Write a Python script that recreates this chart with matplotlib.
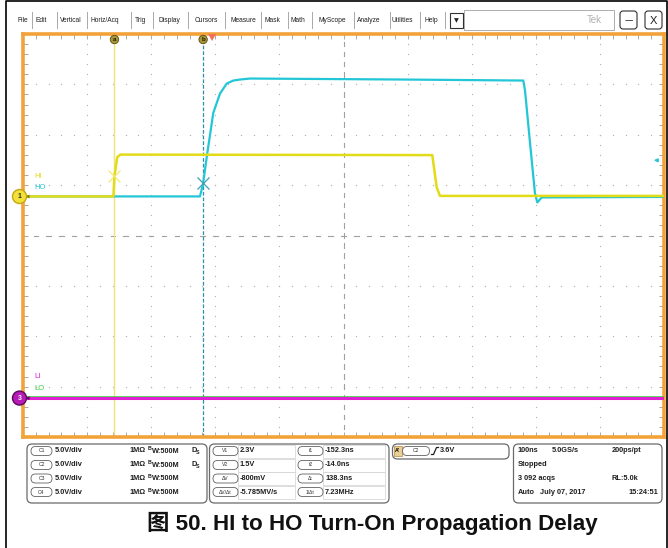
import numpy as np
import matplotlib.pyplot as plt
from matplotlib.patches import FancyBboxPatch, Rectangle, Circle, Polygon

W, H = 668, 548

# scope settings
t_left, ns_div = -295.0, 100.0      # 100 ns/div, trigger at t = 0
v_div = 5.0                          # 5 V/div on all channels
gnd12 = 0.776                        # C1/C2 ground, divisions above centre
gnd34 = -3.235                       # C3/C4 ground

# HI (C1, yellow)
hi_t = [-295, -154, -152.3, -148, -143, 343.5, 350.4, 355.5, 705]
hi_v = [0.0, 0.0, 2.0, 3.9, 4.15, 4.1, 0.9, 0.05, 0.05]
# HO (C2, cyan)
ho_t = [-295, -18.9, -14.2, -8.4, 1.9, 12.3, 22.8, 33.1, 43.5, 59.1, 300,
        485.5, 488.2, 496.0, 503.7, 507.4, 514.2, 705]
ho_v = [0.0, 0.0, 1.2, 3.9, 8.3, 10.2, 11.2, 11.5, 11.6, 11.7, 11.6,
        11.5, 10.5, 5.3, 0.3, -0.6, -0.1, -0.05]
# LI (C3, magenta) and LO (C4, green) stay low
li_t = [-295, 705]
li_v = [0.0, 0.0]
lo_t = [-295, 705]
lo_v = [0.05, 0.05]

cursor_t = [-152.3, -14.0]
trig_level = 3.6

menu_items = ['File', 'Edit', 'Vertical', 'Horiz/Acq', 'Trig', 'Display', 'Cursors',
              'Measure', 'Mask', 'Math', 'MyScope', 'Analyze', 'Utilities', 'Help']
menu_x = [23, 41, 71, 104.5, 140.5, 169.5, 206, 243, 272.5, 298, 332, 368.5, 402.5, 431.5]
menu_sep = [32, 56.5, 86.5, 131, 152.5, 187.5, 224.5, 261, 287.5, 312, 353.5, 390, 419.5, 445]

ch_rows = ['C1', 'C2', 'C3', 'C4']
ch_scale = ['5.0V/div'] * 4
cur_lab_l = ['V1', 'V2', 'ΔV', 'ΔV/Δt']
cur_val_l = ['2.3V', '1.5V', '-800mV', '-5.785MV/s']
cur_lab_r = ['t1', 't2', 'Δt', '1/Δt']
cur_val_r = ['-152.3ns', '-14.0ns', '138.3ns', '7.23MHz']

row_y = [451, 465, 478.5, 492]

YEL, CYA, MAG, GRN = '#e2dc18', '#22c6d6', '#e01ed2', '#3ccf3c'
ORANGE = '#f3a23a'
BF = ['Liberation Sans', 'DejaVu Sans']

fig = plt.figure(figsize=(W / 100, H / 100), dpi=100)

# ---- background layer in pixel coordinates
bg = fig.add_axes([0, 0, 1, 1])
bg.set_xlim(0, W)
bg.set_ylim(H, 0)
bg.axis('off')

# outer frame
bg.plot([6, 6, 666.5, 666.5], [H, 1, 1, H], color='black', lw=1.2)

# menu bar
for name, x in zip(menu_items, menu_x):
    bg.text(x, 20, name, ha='center', va='center', fontsize=4.8, family=BF, color='#202020')
for x in menu_sep:
    bg.plot([x, x], [12, 28], color='#9a9a9a', lw=0.6)
bg.add_patch(Rectangle((449.5, 12.5), 13, 15, fc='white', ec='#303030', lw=0.8))
bg.text(456, 20.5, '▼', ha='center', va='center', fontsize=4.5, color='#202020')
bg.add_patch(Rectangle((464, 10), 150, 20, fc='white', ec='#a0a0a0', lw=0.6))
bg.text(594, 20, 'Tek', ha='center', va='center', fontsize=7, color='#b0b0b0', family=BF)
bg.add_patch(FancyBboxPatch((620, 11), 17, 18, boxstyle='round,pad=0,rounding_size=3',
                            fc='white', ec='#303030', lw=0.8))
bg.text(628.5, 21, '—', ha='center', va='center', fontsize=6, color='#202020')
bg.add_patch(FancyBboxPatch((645, 11), 17, 18, boxstyle='round,pad=0,rounding_size=3',
                            fc='white', ec='#303030', lw=0.8))
bg.text(653.5, 20.5, 'X', ha='center', va='center', fontsize=8, color='#202020', family=BF)

# bottom panels
def panel(x0, y0, x1, y1):
    bg.add_patch(FancyBboxPatch((x0, y0), x1 - x0, y1 - y0, boxstyle='round,pad=0,rounding_size=5',
                                fc='white', ec='#6a6a6a', lw=0.9))

def oval(xc, yc, w, label):
    bg.add_patch(FancyBboxPatch((xc - w / 2, yc - 4.5), w, 9, boxstyle='round,pad=0,rounding_size=4.5',
                                fc='white', ec='#606060', lw=0.6))
    bg.text(xc, yc, label, ha='center', va='center', fontsize=3.6, family=BF, color='#303030')

def btext(x, y, s, ha='left', size=5.3):
    bg.text(x, y, s, ha=ha, va='center', fontsize=size, family=BF, weight='bold', color='#1e1e1e')

panel(27, 444, 207, 503)
for i, (c, s) in enumerate(zip(ch_rows, ch_scale)):
    y = row_y[i]
    oval(41.5, y, 21, c)
    btext(55, y, s)
    btext(130, y, '1MΩ')
    btext(148, y - 2, 'B', size=3.8)
    btext(151.5, y + 0.5, 'W:500M')
    if i < 2:
        btext(191, y, 'D')
        btext(196, y + 2, 'S', size=3.8)

panel(209.5, 444, 389, 503)
for i in range(4):
    y = row_y[i]
    bg.add_patch(Rectangle((238, y - 6.5), 57, 13, fc='none', ec='#d8d8d8', lw=0.6))
    bg.add_patch(Rectangle((323, y - 6.5), 62, 13, fc='none', ec='#d8d8d8', lw=0.6))
    oval(225.5, y, 25, cur_lab_l[i])
    btext(240, y, cur_val_l[i])
    oval(310.5, y, 25, cur_lab_r[i])
    btext(325, y, cur_val_r[i])

panel(392.5, 444, 509, 459)
bg.add_patch(Rectangle((393.5, 446), 8, 10, fc='#e9cf93', ec='#b08a40', lw=0.5))
bg.text(397.5, 451, "A'", ha='center', va='center', fontsize=3.8, family=BF, weight='bold')
oval(416, 451, 27, 'C2')
bg.plot([431.5, 433.5, 436.5, 438.5], [454.5, 454.5, 447.5, 447.5], color='#1e1e1e', lw=0.9)
btext(440, 451, '3.6V')

panel(513.5, 444, 662, 503)
btext(518, row_y[0], '100ns')
btext(552, row_y[0], '5.0GS/s')
btext(612, row_y[0], '200ps/pt')
btext(518, row_y[1], 'Stopped')
btext(518, row_y[2], '3 092 acqs')
btext(612, row_y[2], 'RL:5.0k')
btext(518, row_y[3], 'Auto')
btext(540, row_y[3], 'July 07, 2017')
btext(658, row_y[3], '15:24:51', ha='right')

bg.text(372, 523, '图 50. HI to HO Turn-On Propagation Delay', ha='center', va='center',
        fontsize=16.1, weight='bold', family=['Liberation Sans', 'Noto Sans CJK SC'], color='#111111')

# ---- scope graticule
ax = fig.add_axes([23 / W, 1 - 437 / H, 641 / W, 403 / H])
ax.set_xlim(t_left, t_left + 10 * ns_div)
ax.set_ylim(-4, 4)
for s in ax.spines.values():
    s.set_color(ORANGE)
    s.set_linewidth(2.6)
minor_x = [t_left + ns_div * k / 5 for k in range(51)]
minor_y = [-4 + k / 5 for k in range(41)]
ax.set_xticks(minor_x)
ax.set_yticks(minor_y)
ax.tick_params(direction='in', length=3.8, width=0.7, color='#a8a8a8',
               top=True, right=True, labelbottom=False, labelleft=False)

gx, gy = [], []
for k in range(1, 10):
    if k == 5:
        continue
    x = t_left + k * ns_div
    gx += [x] * 41
    gy += minor_y
for k in range(-3, 4):
    if k == 0:
        continue
    gx += minor_x
    gy += [k] * 51
ax.scatter(gx, gy, s=0.9, color='#b4b4b4', lw=0, zorder=1)

# centre crosshair: short dashes along each centre line
xc = t_left + 5 * ns_div
dx, dy = 2.2 * 1000 / 641, 2.2 * 8 / 403
hx, hy, vx, vy = [], [], [], []
for x in minor_x:
    hx += [x - dx, x + dx, np.nan]
    hy += [0, 0, np.nan]
for y in minor_y:
    vx += [xc, xc, np.nan]
    vy += [y - dy, y + dy, np.nan]
ax.plot(hx, hy, color='#a0a0a0', lw=0.8, zorder=1)
ax.plot(vx, vy, color='#a0a0a0', lw=0.8, zorder=1)

# cursors
ax.axvline(cursor_t[0], color='#efe47a', lw=1.0, zorder=2)
ax.axvline(cursor_t[1], color='#2f8fa5', lw=0.9, ls=(0, (3, 1.5)), zorder=2)

def to_div(v, g):
    return np.asarray(v) / v_div + g

ax.plot(lo_t, to_div(lo_v, gnd34), color=GRN, lw=2.6, zorder=3)
ax.plot(li_t, to_div(li_v, gnd34), color=MAG, lw=2.2, zorder=4)
ax.plot(ho_t, to_div(ho_v, gnd12), color=CYA, lw=1.6, zorder=3)
ax.plot(hi_t, to_div(hi_v, gnd12), color=YEL, lw=1.8, zorder=4)

# cursor crossing markers
ya = to_div(np.interp(cursor_t[0], hi_t, hi_v), gnd12)
yb = to_div(np.interp(cursor_t[1], ho_t, ho_v), gnd12)
ax.plot(cursor_t[0], ya, marker='x', ms=9, mew=0.9, color='#f2ea70', zorder=6)
ax.plot(cursor_t[1], yb, marker='x', ms=9, mew=0.9, color='#3c9fb4', zorder=6)

# channel labels
ax.text(t_left + 18, to_div(2.0, gnd12), 'HI', color=YEL, fontsize=5.5, family=BF, va='center')
ax.text(t_left + 18, to_div(0.9, gnd12), 'HO', color=CYA, fontsize=5.5, family=BF, va='center')
ax.text(t_left + 18, to_div(2.2, gnd34), 'LI', color=MAG, fontsize=5.5, family=BF, va='center')
ax.text(t_left + 18, to_div(0.95, gnd34), 'LO', color=GRN, fontsize=5.5, family=BF, va='center')

# ---- overlay markers on the frame
ov = fig.add_axes([0, 0, 1, 1], zorder=5)
ov.set_xlim(0, W)
ov.set_ylim(H, 0)
ov.axis('off')

def t2px(t):
    return 23 + (t - t_left) / (10 * ns_div) * 641

def d2py(d):
    return 235.5 - d * 402 / 8

for t, lab in zip(cursor_t, ['a', 'b']):
    ov.add_patch(Circle((t2px(t), 39.5), 4.2, fc='#a99535', ec='#5a4c12', lw=0.6))
    ov.text(t2px(t), 39.6, lab, ha='center', va='center', fontsize=4.5, color='#1a1a00', family=BF, weight='bold')
tx = t2px(0)
ov.add_patch(Polygon([[tx - 4, 34], [tx + 4, 34], [tx, 41]], closed=True, fc='#f4705e', ec='none'))

y1 = d2py(gnd12)
ov.add_patch(Polygon([[26, y1], [29.5, y1 - 2], [29.5, y1 + 2]], closed=True, fc='#8a7a00', ec='none'))
ov.add_patch(Circle((19.5, y1), 7, fc='#f1e138', ec='#c7a614', lw=1.0))
ov.text(19.5, y1 + 0.3, '1', ha='center', va='center', fontsize=5, color='#333', family=BF, weight='bold')
y3 = d2py(gnd34)
ov.add_patch(Polygon([[26, y3], [29.5, y3 - 2], [29.5, y3 + 2]], closed=True, fc='#600060', ec='none'))
ov.add_patch(Circle((19.5, y3), 7, fc='#b81ab8', ec='#5a0a5a', lw=1.0))
ov.text(19.5, y3 + 0.3, '3', ha='center', va='center', fontsize=5, color='#f0f0f0', family=BF, weight='bold')

yt = d2py(to_div(trig_level, gnd12))
ov.annotate('', xy=(651, yt), xytext=(660, yt),
            arrowprops=dict(arrowstyle='-|>', color=CYA, lw=1.0, mutation_scale=5))

fig.savefig('out.png', dpi=100)
